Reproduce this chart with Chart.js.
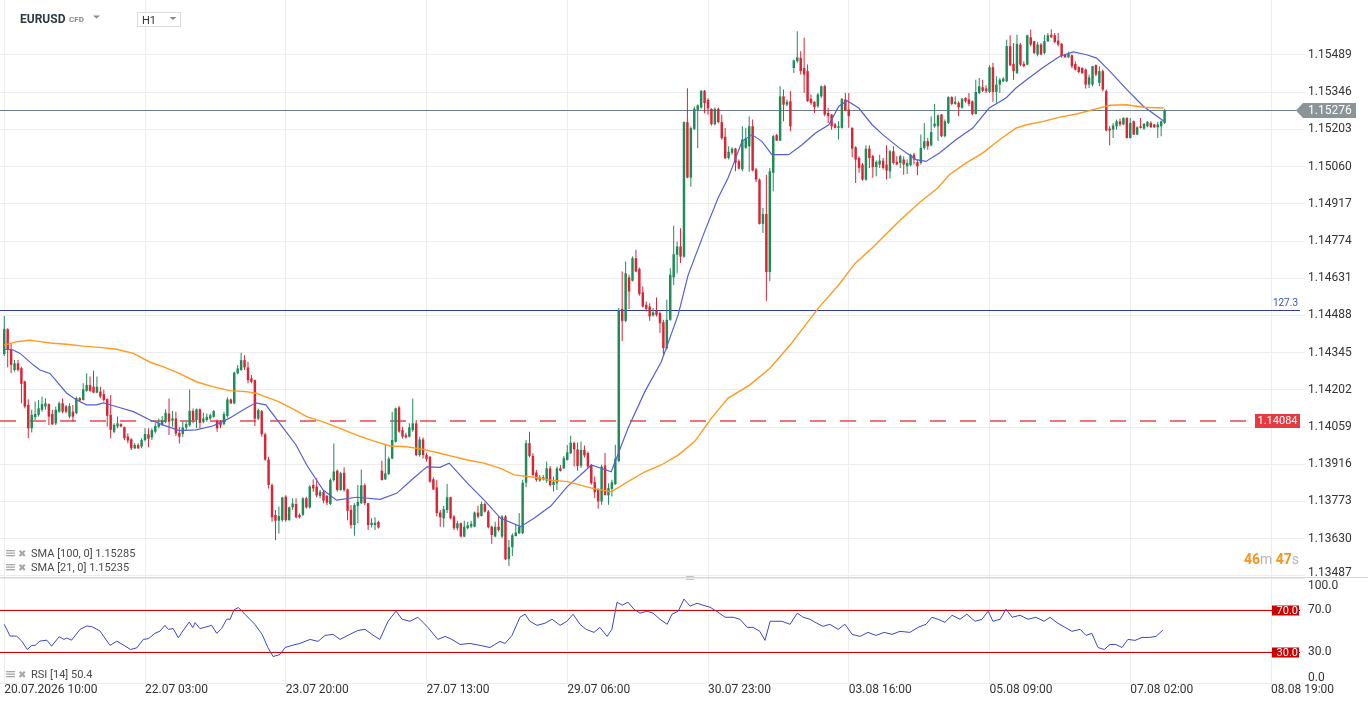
<!DOCTYPE html>
<html><head><meta charset="utf-8">
<script src="https://cdn.jsdelivr.net/npm/chart.js@4.4.1/dist/chart.umd.min.js"></script>
<style>html,body{margin:0;padding:0;background:#fff;overflow:hidden}#wrap{position:relative;width:1368px;height:707px}</style>
</head><body><div id="wrap"><canvas id="c"></canvas></div>
<script>
// ---------- labels / ticks ----------
const symbolName = 'EURUSD', symbolType = 'CFD', timeframe = 'H1';
const tickIdx = [0, 41, 82, 123, 164, 205, 246, 287, 328, 369];
const tickLabels = ['20.07.2026 10:00','22.07 03:00','23.07 20:00','27.07 13:00','29.07 06:00','30.07 23:00','03.08 16:00','05.08 09:00','07.08 02:00','08.08 19:00'];
const priceTicks = [1.15489,1.15346,1.15203,1.15060,1.14917,1.14774,1.14631,1.14488,1.14345,1.14202,1.14059,1.13916,1.13773,1.13630,1.13487];
const rsiTicks = [0, 30, 70, 100];
const currentPrice = 1.15276;
const fibLevel = 1.14509, fibLabel = '127.3';
const alertLevel = 1.14084;
const rsiUpper = 70, rsiLower = 30;
const timerParts = [['46', true], ['m', false], [' 47', true], ['s', false]];

// ---------- hourly candles (index 0 = 20.07 10:00) ----------
const openP = [
1.14339,1.14435,1.14358,1.14278,1.14304,1.14285,1.14234,1.14144,1.14054,1.14097,
1.14106,1.14125,1.14138,1.14147,1.14109,1.14073,1.14118,1.14150,1.14138,1.14099,
1.14118,1.14112,1.14170,1.14163,1.14198,1.14220,1.14214,1.14191,1.14195,1.14186,
1.14166,1.14106,1.14041,1.14061,1.14070,1.14058,1.14022,1.14012,1.13977,1.13990,
1.13984,1.14009,1.14031,1.14019,1.14041,1.14060,1.14070,1.14079,1.14111,1.14083,
1.14092,1.14037,1.14032,1.14057,1.14066,1.14121,1.14086,1.14127,1.14079,1.14086,
1.14092,1.14098,1.14082,1.14079,1.14070,1.14101,1.14165,1.14150,1.14265,1.14278,
1.14316,1.14288,1.14246,1.14239,1.14091,1.14120,1.14031,1.13934,1.13836,1.13721,
1.13699,1.13701,1.13791,1.13701,1.13750,1.13763,1.13721,1.13721,1.13785,1.13750,
1.13836,1.13830,1.13794,1.13810,1.13794,1.13763,1.13855,1.13891,1.13817,1.13883,
1.13819,1.13740,1.13682,1.13755,1.13766,1.13835,1.13766,1.13682,1.13682,1.13694,
1.13891,1.13858,1.13878,1.13938,1.14002,1.14134,1.14047,1.14028,1.14022,1.14047,
1.14073,1.13951,1.14011,1.13951,1.13945,1.13858,1.13827,1.13730,1.13708,1.13740,
1.13789,1.13715,1.13670,1.13689,1.13638,1.13670,1.13676,1.13676,1.13730,1.13717,
1.13763,1.13734,1.13676,1.13638,1.13676,1.13638,1.13715,1.13551,1.13597,1.13640,
1.13651,1.13651,1.13845,1.13997,1.13948,1.13884,1.13853,1.13858,1.13853,1.13900,
1.13836,1.13843,1.13900,1.13900,1.13932,1.13958,1.13997,1.13973,1.13910,1.13971,
1.13959,1.13911,1.13847,1.13818,1.13773,1.13911,1.13796,1.13821,1.13839,1.13929,
1.14513,1.14467,1.14634,1.14621,1.14708,1.14667,1.14577,1.14529,1.14522,1.14488,
1.14506,1.14497,1.14462,1.14362,1.14471,1.14634,1.14721,1.14753,1.14714,1.15231,
1.15018,1.15205,1.15278,1.15287,1.15351,1.15316,1.15282,1.15223,1.15282,1.15231,
1.15175,1.15093,1.15113,1.15129,1.15081,1.15049,1.15132,1.15138,1.15215,1.15049,
1.15010,1.14840,1.14878,1.14655,1.15036,1.15181,1.15160,1.15330,1.15298,1.15311,
1.15439,1.15465,1.15478,1.15439,1.15427,1.15320,1.15309,1.15292,1.15330,1.15369,
1.15266,1.15260,1.15222,1.15209,1.15209,1.15318,1.15279,1.15209,1.15134,1.15093,
1.15068,1.15010,1.15129,1.15100,1.15058,1.15068,1.15083,1.15068,1.15042,1.15119,
1.15078,1.15074,1.15087,1.15061,1.15065,1.15106,1.15077,1.15074,1.15132,1.15158,
1.15142,1.15215,1.15215,1.15260,1.15177,1.15228,1.15327,1.15301,1.15305,1.15286,
1.15324,1.15318,1.15311,1.15262,1.15343,1.15365,1.15360,1.15347,1.15442,1.15347,
1.15375,1.15388,1.15388,1.15523,1.15455,1.15420,1.15529,1.15455,1.15452,1.15557,
1.15542,1.15491,1.15529,1.15497,1.15542,1.15567,1.15565,1.15544,1.15532,1.15491,
1.15480,1.15488,1.15455,1.15442,1.15439,1.15433,1.15375,1.15375,1.15450,1.15382,
1.15427,1.15350,1.15206,1.15202,1.15215,1.15234,1.15222,1.15247,1.15170,1.15234,
1.15183,1.15215,1.15206,1.15215,1.15228,1.15222,1.15211,1.15215,1.15228];
const highP = [
1.14486,1.14439,1.14381,1.14317,1.14317,1.14291,1.14237,1.14166,1.14125,1.14157,
1.14163,1.14176,1.14170,1.14149,1.14125,1.14138,1.14157,1.14170,1.14144,1.14150,
1.14144,1.14176,1.14173,1.14227,1.14266,1.14253,1.14275,1.14253,1.14214,1.14202,
1.14170,1.14182,1.14073,1.14099,1.14073,1.14061,1.14035,1.14016,1.13997,1.13997,
1.14016,1.14054,1.14054,1.14054,1.14073,1.14092,1.14101,1.14127,1.14169,1.14121,
1.14118,1.14060,1.14079,1.14079,1.14203,1.14130,1.14130,1.14130,1.14114,1.14111,
1.14111,1.14124,1.14088,1.14086,1.14118,1.14173,1.14169,1.14271,1.14297,1.14344,
1.14335,1.14310,1.14259,1.14242,1.14130,1.14124,1.14037,1.13945,1.13842,1.13740,
1.13753,1.13791,1.13797,1.13753,1.13785,1.13785,1.13727,1.13789,1.13791,1.13836,
1.13858,1.13862,1.13817,1.13817,1.13798,1.13862,1.13996,1.13896,1.13887,1.13904,
1.13822,1.13759,1.13766,1.13836,1.13896,1.13842,1.13768,1.13708,1.13712,1.13699,
1.13929,1.13990,1.13945,1.14118,1.14134,1.14140,1.14060,1.14037,1.14073,1.14169,
1.14086,1.14022,1.14019,1.13960,1.13947,1.13865,1.13856,1.13740,1.13756,1.13840,
1.13791,1.13721,1.13699,1.13692,1.13699,1.13695,1.13699,1.13734,1.13756,1.13772,
1.13769,1.13740,1.13679,1.13695,1.13715,1.13721,1.13721,1.13625,1.13651,1.13683,
1.13728,1.13856,1.14009,1.14041,1.13958,1.13894,1.13875,1.13875,1.13926,1.13909,
1.13868,1.13907,1.13913,1.13948,1.13990,1.14025,1.14003,1.13999,1.14003,1.13988,
1.13965,1.13916,1.13869,1.13824,1.13914,1.13959,1.13843,1.13856,1.13991,1.14516,
1.14657,1.14695,1.14644,1.14714,1.14740,1.14672,1.14599,1.14541,1.14535,1.14516,
1.14557,1.14503,1.14471,1.14548,1.14669,1.14833,1.14772,1.14823,1.15233,1.15361,
1.15214,1.15291,1.15300,1.15354,1.15354,1.15323,1.15284,1.15287,1.15287,1.15259,
1.15208,1.15138,1.15134,1.15132,1.15087,1.15215,1.15209,1.15254,1.15241,1.15055,
1.15014,1.14901,1.15029,1.15055,1.15181,1.15186,1.15369,1.15356,1.15318,1.15350,
1.15471,1.15580,1.15503,1.15555,1.15452,1.15337,1.15311,1.15343,1.15372,1.15375,
1.15286,1.15262,1.15228,1.15234,1.15324,1.15343,1.15343,1.15211,1.15138,1.15100,
1.15074,1.15142,1.15142,1.15106,1.15083,1.15106,1.15093,1.15142,1.15125,1.15138,
1.15100,1.15106,1.15100,1.15087,1.15109,1.15113,1.15087,1.15183,1.15228,1.15170,
1.15254,1.15301,1.15260,1.15262,1.15241,1.15330,1.15330,1.15330,1.15311,1.15324,
1.15327,1.15343,1.15314,1.15394,1.15401,1.15394,1.15373,1.15450,1.15459,1.15407,
1.15401,1.15403,1.15548,1.15565,1.15535,1.15567,1.15535,1.15465,1.15567,1.15587,
1.15544,1.15539,1.15535,1.15567,1.15574,1.15587,1.15574,1.15574,1.15535,1.15493,
1.15501,1.15491,1.15465,1.15446,1.15442,1.15437,1.15414,1.15448,1.15452,1.15446,
1.15433,1.15356,1.15215,1.15228,1.15241,1.15245,1.15250,1.15250,1.15247,1.15237,
1.15215,1.15247,1.15228,1.15234,1.15234,1.15224,1.15232,1.15237,1.15282];
const lowP = [
1.14332,1.14289,1.14266,1.14272,1.14272,1.14150,1.14131,1.14016,1.14038,1.14086,
1.14099,1.14118,1.14125,1.14067,1.14067,1.14067,1.14114,1.14112,1.14112,1.14093,
1.14080,1.14109,1.14157,1.14161,1.14195,1.14195,1.14189,1.14189,1.14170,1.14157,
1.14061,1.14016,1.14035,1.14054,1.14058,1.14009,1.13997,1.13971,1.13974,1.13974,
1.13977,1.14003,1.13981,1.14009,1.14034,1.14054,1.14063,1.14073,1.14028,1.14060,
1.14024,1.13996,1.14022,1.14047,1.14060,1.14073,1.14054,1.14054,1.14073,1.14079,
1.14086,1.14096,1.14041,1.14054,1.14066,1.14096,1.14147,1.14147,1.14262,1.14275,
1.14278,1.14227,1.14227,1.14063,1.14086,1.14022,1.13929,1.13823,1.13695,1.13624,
1.13650,1.13695,1.13695,1.13699,1.13740,1.13708,1.13707,1.13717,1.13746,1.13746,
1.13810,1.13789,1.13785,1.13766,1.13759,1.13759,1.13849,1.13810,1.13814,1.13810,
1.13701,1.13669,1.13641,1.13689,1.13763,1.13759,1.13663,1.13673,1.13663,1.13669,
1.13853,1.13855,1.13874,1.13935,1.13999,1.14037,1.14015,1.14015,1.14019,1.14041,
1.13947,1.13945,1.13938,1.13926,1.13845,1.13817,1.13715,1.13676,1.13674,1.13728,
1.13704,1.13663,1.13661,1.13635,1.13635,1.13666,1.13670,1.13674,1.13708,1.13715,
1.13730,1.13670,1.13610,1.13635,1.13657,1.13631,1.13548,1.13525,1.13563,1.13638,
1.13648,1.13648,1.13827,1.13943,1.13871,1.13849,1.13849,1.13853,1.13845,1.13830,
1.13811,1.13817,1.13888,1.13897,1.13930,1.13955,1.13907,1.13891,1.13901,1.13942,
1.13901,1.13837,1.13786,1.13745,1.13760,1.13796,1.13760,1.13792,1.13837,1.13924,
1.14390,1.14462,1.14513,1.14618,1.14654,1.14564,1.14518,1.14503,1.14467,1.14484,
1.14484,1.14420,1.14334,1.14356,1.14467,1.14605,1.14650,1.14689,1.14710,1.15015,
1.14983,1.15201,1.15131,1.15282,1.15265,1.15259,1.15218,1.15218,1.15227,1.15163,
1.15090,1.15087,1.15106,1.15042,1.15049,1.15042,1.15129,1.15040,1.15042,1.15001,
1.14837,1.14805,1.14543,1.14619,1.14965,1.15158,1.15158,1.15234,1.15292,1.15196,
1.15420,1.15459,1.15414,1.15343,1.15309,1.15298,1.15266,1.15286,1.15324,1.15254,
1.15228,1.15202,1.15206,1.15164,1.15206,1.15273,1.15209,1.15096,1.14997,1.15036,
1.15006,1.15006,1.15055,1.15017,1.15023,1.15055,1.15049,1.15010,1.15014,1.15068,
1.15065,1.15055,1.15029,1.15032,1.15061,1.15068,1.15027,1.15068,1.15125,1.15125,
1.15138,1.15209,1.15158,1.15173,1.15173,1.15224,1.15296,1.15298,1.15254,1.15283,
1.15305,1.15292,1.15257,1.15260,1.15339,1.15347,1.15343,1.15343,1.15309,1.15305,
1.15343,1.15385,1.15385,1.15446,1.15394,1.15416,1.15446,1.15442,1.15450,1.15523,
1.15493,1.15484,1.15488,1.15491,1.15539,1.15555,1.15535,1.15523,1.15478,1.15478,
1.15478,1.15439,1.15429,1.15420,1.15416,1.15360,1.15362,1.15369,1.15407,1.15369,
1.15350,1.15196,1.15142,1.15170,1.15202,1.15215,1.15219,1.15168,1.15168,1.15181,
1.15181,1.15206,1.15202,1.15211,1.15209,1.15209,1.15170,1.15177,1.15224];
const closeP = [
1.14435,1.14358,1.14298,1.14304,1.14278,1.14225,1.14138,1.14054,1.14106,1.14109,
1.14131,1.14147,1.14150,1.14099,1.14070,1.14125,1.14150,1.14118,1.14118,1.14140,
1.14099,1.14170,1.14161,1.14204,1.14221,1.14198,1.14191,1.14214,1.14176,1.14163,
1.14102,1.14048,1.14067,1.14073,1.14061,1.14016,1.14007,1.13977,1.13990,1.13977,
1.14009,1.14032,1.14014,1.14047,1.14063,1.14073,1.14086,1.14114,1.14079,1.14092,
1.14034,1.14022,1.14057,1.14070,1.14121,1.14086,1.14127,1.14075,1.14092,1.14098,
1.14104,1.14120,1.14054,1.14066,1.14109,1.14165,1.14150,1.14268,1.14284,1.14316,
1.14288,1.14239,1.14233,1.14091,1.14124,1.14031,1.13934,1.13836,1.13712,1.13699,
1.13717,1.13788,1.13701,1.13750,1.13765,1.13712,1.13712,1.13785,1.13750,1.13830,
1.13823,1.13796,1.13810,1.13776,1.13768,1.13855,1.13888,1.13817,1.13881,1.13817,
1.13737,1.13682,1.13759,1.13771,1.13835,1.13766,1.13682,1.13691,1.13691,1.13673,
1.13855,1.13881,1.13938,1.14009,1.14131,1.14041,1.14022,1.14019,1.14058,1.14073,
1.13951,1.14011,1.13951,1.13935,1.13849,1.13819,1.13728,1.13712,1.13743,1.13789,
1.13708,1.13670,1.13689,1.13638,1.13676,1.13681,1.13687,1.13730,1.13715,1.13763,
1.13734,1.13674,1.13644,1.13676,1.13663,1.13715,1.13551,1.13597,1.13643,1.13653,
1.13676,1.13845,1.13997,1.13948,1.13875,1.13856,1.13866,1.13866,1.13900,1.13836,
1.13849,1.13900,1.13891,1.13939,1.13962,1.13999,1.13973,1.13909,1.13971,1.13950,
1.13907,1.13843,1.13809,1.13773,1.13907,1.13798,1.13824,1.13847,1.13937,1.14509,
1.14467,1.14650,1.14580,1.14708,1.14657,1.14570,1.14522,1.14513,1.14484,1.14500,
1.14490,1.14458,1.14362,1.14471,1.14644,1.14723,1.14753,1.14714,1.15231,1.15018,
1.15208,1.15282,1.15295,1.15351,1.15304,1.15284,1.15223,1.15282,1.15231,1.15169,
1.15092,1.15117,1.15129,1.15074,1.15052,1.15164,1.15168,1.15215,1.15045,1.15010,
1.14840,1.14878,1.14655,1.15042,1.15177,1.15160,1.15330,1.15298,1.15309,1.15215,
1.15468,1.15480,1.15427,1.15414,1.15311,1.15305,1.15288,1.15337,1.15369,1.15260,
1.15254,1.15215,1.15209,1.15215,1.15320,1.15275,1.15254,1.15129,1.15087,1.15055,
1.15010,1.15129,1.15093,1.15058,1.15078,1.15083,1.15055,1.15045,1.15119,1.15074,
1.15068,1.15100,1.15068,1.15074,1.15106,1.15087,1.15061,1.15132,1.15158,1.15138,
1.15193,1.15225,1.15257,1.15177,1.15234,1.15327,1.15301,1.15309,1.15288,1.15321,
1.15311,1.15301,1.15262,1.15347,1.15369,1.15352,1.15350,1.15442,1.15347,1.15375,
1.15394,1.15398,1.15523,1.15450,1.15427,1.15532,1.15452,1.15446,1.15565,1.15529,
1.15497,1.15529,1.15491,1.15542,1.15565,1.15557,1.15539,1.15529,1.15484,1.15480,
1.15493,1.15446,1.15433,1.15424,1.15420,1.15375,1.15403,1.15446,1.15414,1.15427,
1.15356,1.15199,1.15199,1.15218,1.15234,1.15222,1.15247,1.15170,1.15228,1.15183,
1.15211,1.15209,1.15224,1.15232,1.15211,1.15211,1.15222,1.15234,1.15276];

// ---------- indicators (candle index, value) ----------
const sma100X = [0,3.6,7.5,13.3,18.2,23,27.9,32.8,37.6,42.5,46.2,51,55.9,60.7,65.6,70.4,73.3,80.1,85,88.1,92.9,97.8,102.7,107.5,112.4,117.2,122.1,126.9,130,134.9,139.7,144.6,148.5,154.3,159.2,164,168.9,172,176.8,181.7,186.6,191.4,196.3,201.1,206,210.8,217.2,223.1,228.9,237.2,243.1,247.9,252.8,261,266.8,271.9,275.3,280.2,285,289.9,294.7,297.8,302.7,307.5,312.4,317.2,322.1,327,331.8,337.7];
const sma100Y = [1.14374,1.14387,1.14393,1.14382,1.14377,1.14370,1.14365,1.14358,1.14342,1.14308,1.14291,1.14265,1.14233,1.14214,1.14199,1.14195,1.14189,1.14156,1.14122,1.14099,1.14079,1.14054,1.14028,1.14006,1.13986,1.13983,1.13973,1.13958,1.13948,1.13932,1.13920,1.13900,1.13875,1.13866,1.13855,1.13849,1.13832,1.13821,1.13810,1.13849,1.13887,1.13913,1.13951,1.14003,1.14093,1.14169,1.14221,1.14286,1.14374,1.14517,1.14606,1.14689,1.14747,1.14855,1.14924,1.14978,1.15029,1.15074,1.15112,1.15163,1.15208,1.15221,1.15234,1.15250,1.15262,1.15279,1.15296,1.15298,1.15288,1.15285];
const sma21X = [0,2.6,4.6,8.5,10.4,13.3,18.2,21.1,24,26.9,28.9,32.8,37.6,42.5,46.2,51,55.9,60.7,65.6,70.4,73.3,76.2,80.1,85,88.1,92.9,96.8,102.7,109.5,114.3,119.2,123.1,126.9,129.6,134.9,139.8,144.6,150.4,154.3,159.2,164,168.9,171,176.8,181.7,186.6,191.4,196.3,199.2,204,207.9,210.8,212,214.9,217.8,220.7,223.6,228.5,232.4,236.3,240.2,243.1,245.5,248.9,252.8,255.9,260.7,265.6,268.5,272.4,277.2,282.1,286.9,291.8,294.7,297.8,302.7,307.5,311.4,315.3,318.2,322.1,327,331.8,337.7];
const sma21Y = [1.14358,1.14355,1.14342,1.14297,1.14278,1.14265,1.14189,1.14163,1.14144,1.14144,1.14152,1.14137,1.14118,1.14086,1.14067,1.14045,1.14048,1.14063,1.14093,1.14131,1.14152,1.14144,1.14076,1.13990,1.13913,1.13817,1.13778,1.13789,1.13781,1.13804,1.13862,1.13906,1.13904,1.13920,1.13843,1.13778,1.13708,1.13676,1.13708,1.13755,1.13830,1.13887,1.13913,1.13887,1.14054,1.14195,1.14310,1.14490,1.14643,1.14810,1.14938,1.15015,1.15055,1.15157,1.15183,1.15157,1.15106,1.15106,1.15144,1.15189,1.15221,1.15292,1.15313,1.15285,1.15221,1.15183,1.15132,1.15087,1.15080,1.15112,1.15163,1.15208,1.15285,1.15324,1.15362,1.15394,1.15442,1.15484,1.15501,1.15490,1.15477,1.15426,1.15356,1.15292,1.15235];
const rsiX = [0,1.7,3.6,5.1,6.7,8,9,10.4,12.4,13.8,16,17.4,18.2,19.6,22.1,24,25.5,27.9,30.8,32.8,34.9,36.8,38.6,40.5,42,43.9,45.4,46.8,47.8,49.2,50.7,52.2,53.9,54.9,55.6,57,60.4,61.9,63.3,64.8,65.8,66.9,68.2,70.1,73,75.1,76.8,78.3,80.3,81.8,83.8,86.1,89.1,91.4,93.4,95.8,97.8,100.7,103,105.1,107.1,109.4,111.8,114.1,115.9,118.2,120.5,123.4,126.3,128.4,130.4,132.8,135.7,138.6,141.5,144.4,145.9,147.9,150.2,151.7,153.1,155.2,157.5,159.6,161.9,163.9,165.7,167.7,169.5,171.8,173.5,175.6,177,178.5,180,181.7,183.4,185.2,187.2,189,191,193.1,194.5,196.3,198,199.8,201.8,203.5,205.6,207.9,210,212.3,214.3,216.4,218.1,220.1,221.6,223.1,224.8,226.5,228.9,231,232.7,234.7,236.7,238.5,240.5,242.9,244.9,247,249.3,251.6,253.9,256.3,258.6,260.9,263.8,266.2,268.5,270.2,272,274,276.1,278.4,280.4,282.8,284.8,286.6,288,290.1,291.8,293.6,295.9,298.2,300.5,302.9,304.6,306.9,309,311,313.4,315.1,316.8,318.6,320.4,322.1,323.8,325.6,327.3,329.4,331.4,333.7,335.5,337.5];
const rsiY = [55.9,44.7,44.7,39.9,31.9,35.8,35.8,39.9,40.8,35.1,44.1,41.5,42.8,40.8,51.1,54.3,53.7,49.5,35.8,39.9,35.8,31.9,33.5,41.5,42.2,47.3,49.5,54.9,51.1,51.8,43.1,50.4,58.1,52.7,57.5,51.8,54.9,47.3,51.8,60.7,60.7,69.6,71.9,65.5,55.9,46.3,33.8,25.2,27.1,33.8,35.8,37.7,41.5,39.6,45.3,46.3,41.5,46.3,50.1,51.1,46.3,41.5,58.8,68.4,60.7,58.8,62.6,53.0,41.5,44.4,41.5,36.7,37.7,35.8,33.8,39.6,37.7,45.3,62.6,65.5,58.8,54.9,56.9,60.7,54.9,58.8,65.5,55.9,51.1,48.2,53.0,44.4,51.1,77.0,74.1,77.0,70.3,66.5,68.4,66.5,60.7,55.9,65.5,68.4,79.9,73.2,76.0,74.1,72.2,67.4,62.6,62.6,60.7,53.0,53.0,49.2,40.6,58.8,58.8,58.8,55.9,66.5,62.6,60.7,56.9,54.0,55.9,51.1,55.9,46.3,44.4,48.2,45.3,48.2,46.3,49.2,48.2,53.0,55.9,62.6,60.7,57.8,64.5,60.7,65.5,58.8,60.7,68.4,58.8,60.7,70.3,62.6,64.5,60.7,62.6,58.8,62.6,56.9,53.0,49.2,51.1,45.3,47.3,33.8,31.9,36.7,36.7,33.8,41.5,40.6,43.4,43.4,44.4,50.4];

// ---------- styling ----------
const GREEN = '#1f8c58', RED = '#d92536';
const ORANGE = '#ff9a1f', BLUE_SMA = '#5560cf', BLUE_RSI = '#3c46c2';
Chart.defaults.font.family = 'Roboto, "Open Sans", sans-serif';
Chart.defaults.color = '#333';

const candleColors = openP.map((o, i) => closeP[i] >= o ? GREEN : RED);
const wickData = openP.map((o, i) => ({x: i, y: [Math.min(lowP[i], o, closeP[i]), Math.max(highP[i], o, closeP[i])]}));
const bodyData = openP.map((o, i) => ({x: i, y: [Math.min(o, closeP[i]), Math.max(o, closeP[i])]}));
const pts = (xs, ys) => xs.map((x, k) => ({x, y: ys[k]}));

// main price range shown (pixel 0..578) and x range (pixel 0..1300)
const yMin = 1.134786, yMax = 1.157004;
const xMin = -1.238, xMax = 377.44;

function hline(ctx, x1, x2, y) { ctx.beginPath(); ctx.moveTo(x1, y); ctx.lineTo(x2, y); ctx.stroke(); }
const crisp = v => Math.round(v) + 0.5;

function nudgeLabels(scale, area, rules) {
  if (!scale || typeof scale.getLabelItems !== 'function') return;
  const items = scale.getLabelItems(area);
  items.forEach((it, k) => {
    const t = scale.ticks[k];
    if (!t || it._nudged) return;
    rules.forEach(([val, dy]) => {
      if (Math.abs(t.value - val) < 1e-9) {
        const tr = (it.options && it.options.translation) || it.translation;
        if (tr) { tr[1] += dy; it._nudged = true; }
      }
    });
  });
}
const fitRight = s => { s.width = 68; s.paddingTop = 0; s.paddingBottom = 0; };

const overlay = {
  id: 'overlay',
  beforeDraw(chart) {
    nudgeLabels(chart.scales.y, chart.chartArea, [[priceTicks[priceTicks.length - 1], -3]]);
    nudgeLabels(chart.scales.rsi, chart.chartArea, [[100, 8], [0, -5]]);
  },
  beforeDatasetsDraw(chart) {
    const {ctx, chartArea: ca, scales} = chart;
    const y = scales.y, r = scales.rsi;
    ctx.save();
    ctx.lineWidth = 1;
    // panel separator
    ctx.strokeStyle = '#d6d6d6';
    hline(ctx, 0, chart.width, crisp(y.bottom) - 1);
    ctx.fillStyle = '#c4c4c4';
    ctx.fillRect(686, y.bottom - 2, 8, 1);
    ctx.fillRect(686, y.bottom + 1, 8, 1);
    // fibonacci level
    ctx.strokeStyle = '#2d3c9c';
    hline(ctx, ca.left, ca.right, crisp(y.getPixelForValue(fibLevel)));
    // alert level (dashed)
    ctx.strokeStyle = '#e8474c';
    ctx.lineWidth = 1.5;
    ctx.setLineDash([16, 14]);
    hline(ctx, ca.left, ca.right - 46, Math.round(y.getPixelForValue(alertLevel)));
    ctx.setLineDash([]);
    ctx.lineWidth = 1;
    // current price line
    ctx.strokeStyle = '#6f7c8c';
    hline(ctx, ca.left, ca.right, crisp(y.getPixelForValue(currentPrice)));
    // RSI levels
    ctx.strokeStyle = '#d40000';
    hline(ctx, ca.left, ca.right, crisp(r.getPixelForValue(rsiUpper)));
    hline(ctx, ca.left, ca.right, crisp(r.getPixelForValue(rsiLower)));
    ctx.restore();
  },
  afterDraw(chart) {
    const {ctx, chartArea: ca, scales} = chart;
    const y = scales.y, r = scales.rsi;
    ctx.save();
    // fib label
    const fy = y.getPixelForValue(fibLevel);
    ctx.font = '10px Roboto';
    ctx.fillStyle = '#3f51b5';
    ctx.textAlign = 'right';
    ctx.textBaseline = 'alphabetic';
    ctx.fillText(fibLabel, ca.right - 2, fy - 4);
    // alert tag
    const ay = y.getPixelForValue(alertLevel);
    ctx.fillStyle = '#e53a3f';
    ctx.fillRect(ca.right - 45, Math.round(ay) - 7, 45, 14);
    ctx.fillStyle = '#fff';
    ctx.font = '11px Roboto';
    ctx.textAlign = 'center';
    ctx.textBaseline = 'middle';
    ctx.fillText(alertLevel.toFixed(5), ca.right - 22.5, Math.round(ay) + 0.5);
    // current price tag
    const py = Math.round(y.getPixelForValue(currentPrice)) + 0.5;
    ctx.fillStyle = '#8b9499';
    ctx.beginPath();
    ctx.moveTo(ca.right - 4, py);
    ctx.lineTo(ca.right + 3, py - 7.5);
    ctx.lineTo(ca.right + 56, py - 7.5);
    ctx.lineTo(ca.right + 56, py + 7.5);
    ctx.lineTo(ca.right + 3, py + 7.5);
    ctx.closePath();
    ctx.fill();
    ctx.fillStyle = '#fff';
    ctx.font = '12px Roboto';
    ctx.textAlign = 'left';
    ctx.fillText(currentPrice.toFixed(5), ca.right + 8, py + 0.5);
    // RSI level tags
    [rsiUpper, rsiLower].forEach(v => {
      const ly = Math.round(r.getPixelForValue(v)) + 0.5;
      ctx.fillStyle = '#cc0000';
      ctx.fillRect(ca.right - 28, ly - 5, 27, 10);
      ctx.fillStyle = '#fff';
      ctx.font = '11px Roboto';
      ctx.textAlign = 'right';
      ctx.fillText(v.toFixed(1), ca.right - 2, ly + 0.5);
    });
    // legends
    const legend = (txt, baseY) => {
      ctx.fillStyle = '#a8a8a8';
      for (let k = 0; k < 3; k++) ctx.fillRect(6, baseY - 7 + k * 2.5, 9, 1.3);
      ctx.font = 'bold 10px "DejaVu Sans"';
      ctx.textAlign = 'left';
      ctx.textBaseline = 'alphabetic';
      ctx.fillText('\u2716', 18, baseY);
      ctx.fillStyle = '#4a4a4a';
      ctx.font = '11px Roboto';
      ctx.fillText(txt, 31, baseY);
    };
    legend('SMA [100, 0] ' + sma100Y[sma100Y.length - 1].toFixed(5), 557);
    legend('SMA [21, 0] ' + sma21Y[sma21Y.length - 1].toFixed(5), 571);
    legend('RSI [14] ' + rsiY[rsiY.length - 1].toFixed(1), 678);
    // header
    ctx.textBaseline = 'alphabetic';
    ctx.textAlign = 'left';
    ctx.fillStyle = '#2c3945';
    ctx.font = 'bold 12px Roboto';
    ctx.fillText(symbolName, 20, 23);
    ctx.fillStyle = '#8a8a8a';
    ctx.font = 'bold 8px Roboto';
    ctx.fillText(symbolType, 69, 22);
    const tri = (x, yy) => { ctx.beginPath(); ctx.moveTo(x, yy); ctx.lineTo(x + 7, yy); ctx.lineTo(x + 3.5, yy + 3); ctx.closePath(); ctx.fill(); };
    ctx.fillStyle = '#8a8a8a';
    tri(93, 15.5);
    ctx.fillStyle = '#fff';
    ctx.fillRect(138, 13, 42, 13);
    ctx.strokeStyle = '#dcdcdc';
    ctx.lineWidth = 1;
    ctx.strokeRect(137.5, 12.5, 43, 14);
    ctx.fillStyle = '#333';
    ctx.font = '11px Roboto';
    ctx.fillText(timeframe, 142, 23.5);
    ctx.fillStyle = '#8a8a8a';
    tri(169.5, 17);
    // countdown
    const widths = timerParts.map(([t, b]) => { ctx.font = (b ? 'bold ' : '') + '14px Roboto'; return ctx.measureText(t).width; });
    let x = ca.right - 1 - widths.reduce((a, b) => a + b, 0);
    timerParts.forEach(([t, b], k) => {
      ctx.font = (b ? 'bold ' : '') + '14px Roboto';
      ctx.fillStyle = b ? '#f7931e' : '#b5b5b5';
      ctx.fillText(t, x, 564);
      x += widths[k];
    });
    ctx.restore();
  }
};

new Chart(document.getElementById('c'), {
  type: 'bar',
  data: {
    datasets: [
      {type: 'line', label: 'SMA 100', data: pts(sma100X, sma100Y), yAxisID: 'y', borderColor: ORANGE, borderWidth: 1.4, pointRadius: 0, tension: 0, fill: false, order: 0},
      {type: 'line', label: 'SMA 21', data: pts(sma21X, sma21Y), yAxisID: 'y', borderColor: BLUE_SMA, borderWidth: 1.2, pointRadius: 0, tension: 0, fill: false, order: 0},
      {type: 'bar', label: 'wick', data: wickData, yAxisID: 'y', backgroundColor: candleColors, grouped: false, categoryPercentage: 1, barPercentage: 1, maxBarThickness: 1, inflateAmount: 0, borderWidth: 0, order: 2},
      {type: 'bar', label: 'body', data: bodyData, yAxisID: 'y', backgroundColor: candleColors, grouped: false, categoryPercentage: 1, barPercentage: 0.72, minBarLength: 1, inflateAmount: 0, borderWidth: 0, order: 1},
      {type: 'line', label: 'RSI 14', data: pts(rsiX, rsiY), yAxisID: 'rsi', borderColor: BLUE_RSI, borderWidth: 1, pointRadius: 0, tension: 0, fill: false, order: 0}
    ]
  },
  options: {
    responsive: true,
    maintainAspectRatio: false,
    animation: false,
    events: [],
    layout: {padding: 0},
    plugins: {legend: {display: false}, tooltip: {enabled: false}},
    scales: {
      x: {
        type: 'linear', position: 'bottom', min: xMin, max: xMax, offset: false, bounds: 'data',
        afterBuildTicks: s => { s.ticks = tickIdx.map(v => ({value: v})); },
        afterFit: s => { s.height = 24; s.paddingLeft = 0; },
        ticks: {autoSkip: false, maxRotation: 0, minRotation: 0, align: 'start', padding: 0, color: '#333', font: {size: 12}, callback: (v, i) => tickLabels[i]},
        grid: {color: '#ededed', drawTicks: false, offset: false},
        border: {display: false}
      },
      y: {
        type: 'linear', position: 'right', stack: 'panes', stackWeight: 578, min: yMin, max: yMax, bounds: 'data',
        afterBuildTicks: s => { s.ticks = priceTicks.map(v => ({value: v})); },
        afterFit: fitRight,
        ticks: {color: '#333', font: {size: 12}, padding: 3, callback: v => Number(v).toFixed(5)},
        grid: {color: '#ececec', tickLength: 5},
        border: {display: false}
      },
      rsi: {
        type: 'linear', position: 'right', stack: 'panes', stackWeight: 105, min: 0, max: 100, bounds: 'data',
        afterBuildTicks: s => { s.ticks = rsiTicks.map(v => ({value: v})); },
        afterFit: fitRight,
        ticks: {color: '#333', font: {size: 12}, padding: 3, callback: v => Number(v).toFixed(1)},
        grid: {color: '#ececec', tickLength: 5},
        border: {display: false}
      }
    }
  },
  plugins: [overlay]
});
</script>
</body></html>
